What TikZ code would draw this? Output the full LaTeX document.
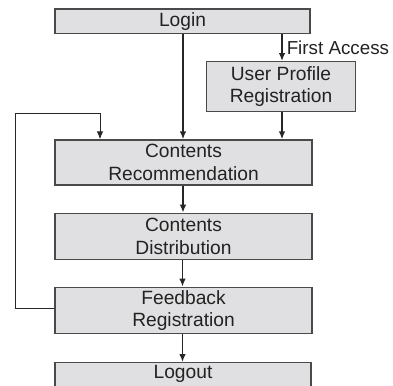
\documentclass[tikz,border=0pt]{standalone}
\usepackage{fontspec}
\setmainfont{Liberation Sans}
\usetikzlibrary{arrows.meta}
\definecolor{boxfill}{HTML}{E0E0E2}
\definecolor{boxline}{HTML}{4A4A4A}
\definecolor{txt}{HTML}{222222}
\begin{document}
\begin{tikzpicture}[x=1pt,y=-1pt,
  stepbox/.style={draw=boxline, fill=boxfill, line width=1.3pt, inner sep=0pt,
     align=center, text=txt, font=\fontsize{19.2}{22.5}\selectfont},
  flow/.style={line width=1.5pt, draw=black!85, -{Latex[length=8pt,width=6.5pt]}},
  loop/.style={line width=1pt, draw=black!85, -{Latex[length=8pt,width=6.5pt]}}]
\clip (0,0) rectangle (393,385);
\useasboundingbox (0,0) rectangle (393,385);
\node[stepbox, minimum width=255pt, minimum height=24.5pt] (login) at (182.5,21.25) {Login};
\node[stepbox, minimum width=149pt, minimum height=50pt] (upr) at (281,86.7) {User Profile\\Registration};
\node[stepbox, minimum width=257pt, minimum height=45pt] (cr) at (183.5,162.5) {Contents\\Recommendation};
\node[stepbox, minimum width=257pt, minimum height=46pt] (cd) at (183.5,236.3) {Contents\\Distribution};
\node[stepbox, minimum width=257pt, minimum height=46pt] (fr) at (183.5,310.3) {Feedback\\Registration};
\node[stepbox, minimum width=256pt, minimum height=46pt] (lo) at (183,385.7) {};
\node[text=txt, font=\fontsize{19.2}{22.5}\selectfont, anchor=north, inner sep=0pt] (lotxt) at (183,365) {Logout};
\draw[flow] (login.south -| 183,0) -- (cr.north -| 183,0);
\draw[flow] (login.south -| 282,0) -- node[right, text=txt, font=\fontsize{18.8}{22}\selectfont, inner sep=4pt] (fa) {First Access} (upr.north -| 282,0);
\draw[flow] (upr.south -| 282,0) -- (cr.north -| 282,0);
\draw[flow] (cr.south -| 183,0) -- (cd.north -| 183,0);
\draw[flow] (cd.south -| 182.5,0) -- (fr.north -| 182.5,0);
\draw[flow] (fr.south -| 182.5,0) -- (lo.north -| 182.5,0);
\coordinate (c1) at (15.5,113.3);
\draw[loop] (fr.west |- 0,308) -| (c1) -| (cr.north -| 100,0);
\end{tikzpicture}
\end{document}
